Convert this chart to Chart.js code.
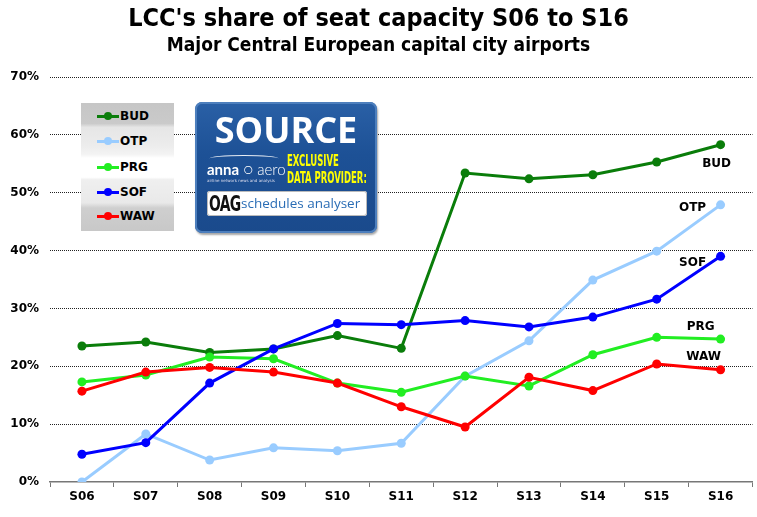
<!DOCTYPE html>
<html>
<head>
<meta charset="utf-8">
<script src="https://cdn.jsdelivr.net/npm/chart.js@4/dist/chart.umd.min.js"></script>
<style>
  html, body { margin:0; padding:0; background:#fff; }
  #wrap { position:relative; width:757px; height:517px; overflow:hidden; }
  #c { position:absolute; left:0; top:0; }
  .title { position:absolute; left:0; width:757px; text-align:center; font-family:"DejaVu Sans Condensed","DejaVu Sans",sans-serif; font-weight:bold; color:#000; white-space:nowrap; }
  #t1 { top:3px; font-size:25px; }
  #t2 { top:33px; font-size:19px; }
  #legend { position:absolute; left:81px; top:103px; width:93px; height:128px;
    background:linear-gradient(to bottom,#c6c6c6 0%,#cacaca 16%,#e6e6e6 19%,#ececec 33%,#f3f3f3 40%,#fff 43%,#fff 58%,#efefef 60%,#e9e9e9 78%,#cfcfcf 82%,#c8c8c8 100%); }
  .lrow { position:absolute; left:0; height:16px; width:93px; }
  .lline { position:absolute; left:16px; top:7px; width:22px; height:3px; }
  .ldot { position:absolute; left:23px; top:4px; width:8px; height:8px; border-radius:50%; }
  .ltxt { position:absolute; left:39px; top:0; font:bold 12px "DejaVu Sans",sans-serif; line-height:16px; color:#000; }
  #src { position:absolute; left:195px; top:102px; width:182px; height:131px; border-radius:7px;
    background:linear-gradient(to bottom,#2a60a6 0%,#1d5196 40%,#1a4a8c 100%);
    box-shadow: inset 0 0 0 2px #4d7fbd, 1px 2px 2px rgba(0,0,0,0.35); }
  #src .big { position:absolute; left:0; width:182px; top:6px; text-align:center; color:#fff; font:bold 36px "Open Sans",Lato,sans-serif; letter-spacing:0px; line-height:44px; }
  #src .anna { position:absolute; left:12px; top:58px; color:#fff; font:bold 15px Lato,"Open Sans",sans-serif; line-height:18px; white-space:nowrap; }
  #src .anna span { font-weight:300; }
  #src .tiny { position:absolute; left:12px; top:76px; color:#dde; font:4px "DejaVu Sans",sans-serif; white-space:nowrap; }
  #src .plane { position:absolute; left:14px; top:53px; width:70px; height:6px; border-top:1px solid #fff; border-radius:50% 50% 0 0; opacity:0.9; }
  #src .excl { position:absolute; left:92px; top:51px; color:#ffff00; font:bold 15px "DejaVu Sans Condensed","Liberation Sans Narrow",sans-serif; line-height:17px; transform:scaleX(0.63); transform-origin:left top; white-space:nowrap; }
  #src .box { position:absolute; left:12px; top:89px; width:160px; height:25px; background:#fff; border-radius:3px; box-shadow: inset 0 0 0 1px #bbb; }
  #src .oag { position:absolute; left:2px; top:1px; font:bold 22px "Liberation Sans Narrow","DejaVu Sans Condensed",sans-serif; color:#111; line-height:24px; transform:scaleX(0.7); transform-origin:left top; letter-spacing:-1px; }
  #src .sa { position:absolute; left:34px; top:4px; font:13.5px "Open Sans",sans-serif; color:#2a6db5; line-height:17px; white-space:nowrap; }
</style>
</head>
<body>
<div id="wrap">
  <canvas id="c" width="757" height="517"></canvas>
  <div class="title" id="t1">LCC's share of seat capacity S06 to S16</div>
  <div class="title" id="t2">Major Central European capital city airports</div>
  <div id="legend"></div>
  <div id="src">
    <div class="big">SOURCE</div>
    <div class="plane"></div>
    <div class="anna">anna<span> ○ aero</span></div>
    <div class="tiny">airline network news and analysis</div>
    <div class="excl">EXCLUSIVE<br>DATA PROVIDER:</div>
    <div class="box"><div class="oag">OAG</div><div class="sa">schedules analyser</div></div>
  </div>
</div>
<script>
const categories = ['S06','S07','S08','S09','S10','S11','S12','S13','S14','S15','S16'];
const seriesNames = ['BUD','OTP','PRG','SOF','WAW'];
const BUD = [23.5, 24.2, 22.4, 23.0, 25.3, 23.1, 53.4, 52.4, 53.1, 55.3, 58.3];
const OTP = [0.0, 8.3, 3.8, 5.9, 5.4, 6.7, 18.3, 24.4, 34.9, 39.9, 47.9];
const PRG = [17.3, 18.5, 21.6, 21.3, 17.1, 15.5, 18.3, 16.6, 22.0, 25.0, 24.7];
const SOF = [4.8, 6.8, 17.1, 23.0, 27.4, 27.2, 27.9, 26.8, 28.5, 31.6, 39.0];
const WAW = [15.7, 19.0, 19.8, 19.0, 17.1, 13.0, 9.5, 18.1, 15.8, 20.4, 19.4];
const yTicks = [0, 10, 20, 30, 40, 50, 60, 70];

const colors = ['#0a7d0a', '#99ccff', '#22ee22', '#0000ff', '#ff0000'];
const seriesValues = [BUD, OTP, PRG, SOF, WAW];
// end label placement: value level (in %) and pixel shift from last point
const endLabels = [
  { level: 55.0, dx: -4 },
  { level: 47.4, dx: -28 },
  { level: 26.8, dx: -20 },
  { level: 37.8, dx: -28 },
  { level: 21.6, dx: -17 }
];

// legend (HTML)
const legend = document.getElementById('legend');
const rowTops = [5, 30, 56, 81, 105];
seriesNames.forEach((n, i) => {
  const r = document.createElement('div');
  r.className = 'lrow'; r.style.top = rowTops[i] + 'px';
  r.innerHTML = '<div class="lline" style="background:' + colors[i] + '"></div>' +
                '<div class="ldot" style="background:' + colors[i] + '"></div>' +
                '<div class="ltxt">' + n + '</div>';
  legend.appendChild(r);
});

const endLabelPlugin = {
  id: 'endLabels',
  afterDatasetsDraw(chart) {
    const ctx = chart.ctx;
    const xs = chart.scales.x, ys = chart.scales.y;
    ctx.save();
    ctx.font = 'bold 12px "DejaVu Sans", sans-serif';
    ctx.fillStyle = '#000';
    ctx.textAlign = 'center';
    ctx.textBaseline = 'middle';
    seriesNames.forEach((n, i) => {
      const x = xs.getPixelForValue(categories.length - 1) + endLabels[i].dx;
      const y = ys.getPixelForValue(endLabels[i].level);
      ctx.fillText(n, x, y);
    });
    ctx.restore();
  }
};

const datasets = seriesNames.map((n, i) => ({
  label: n,
  data: seriesValues[i],
  borderColor: colors[i],
  backgroundColor: colors[i],
  pointBackgroundColor: colors[i],
  pointBorderWidth: 0,
  pointRadius: 4.5,
  borderWidth: 3,
  tension: 0,
  order: seriesNames.length - i
}));

new Chart(document.getElementById('c'), {
  type: 'line',
  data: { labels: categories, datasets },
  plugins: [endLabelPlugin],
  options: {
    responsive: false,
    animation: false,
    layout: { padding: { top: 77, right: 1, left: 0, bottom: 0 } },
    plugins: { legend: { display: false }, title: { display: false }, tooltip: { enabled: false } },
    scales: {
      x: {
        offset: true,
        grid: { offset: true, drawOnChartArea: false, drawTicks: true, tickLength: 5, color: '#777', lineWidth: 1 },
        border: { display: true, color: '#777', width: 1.5 },
        ticks: { font: { family: '"DejaVu Sans", sans-serif', weight: 'bold', size: 12 }, color: '#000', padding: 3, maxRotation: 0 },
        afterFit(s) { s.height = 35; }
      },
      y: {
        min: 0, max: 70,
        afterBuildTicks(s) { s.ticks = yTicks.map(v => ({ value: v })); },
        grid: { drawTicks: false, color: (c) => c.tick && c.tick.value === 0 ? 'rgba(0,0,0,0)' : '#222', lineWidth: 1 },
        border: { display: false, dash: [1, 1] },
        ticks: { font: { family: '"DejaVu Sans", sans-serif', weight: 'bold', size: 12 }, color: '#000', padding: 11, callback: v => v + '%' },
        afterFit(s) { s.width = 50; }
      }
    }
  }
});
</script>
</body>
</html>
